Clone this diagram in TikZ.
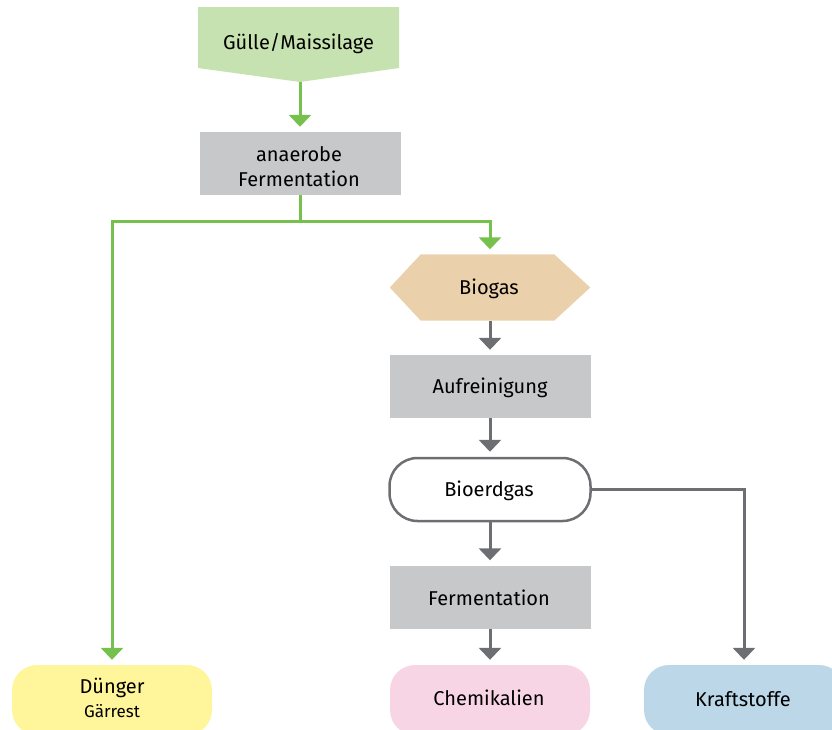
\documentclass[tikz,border=0pt]{standalone}
\usepackage{fontspec}
\setmainfont{Fira Sans}
\usetikzlibrary{arrows.meta}

\definecolor{srcfill}{HTML}{C6E2B0}
\definecolor{flowgreen}{HTML}{76C04E}
\definecolor{stepgray}{HTML}{C7C8CA}
\definecolor{flowgray}{HTML}{6D6E71}
\definecolor{gasfill}{HTML}{EBD1AB}
\definecolor{dungfill}{HTML}{FFF59A}
\definecolor{chemfill}{HTML}{F8D5E5}
\definecolor{fuelfill}{HTML}{BBD7E8}

\tikzset{
  lbl/.style={font=\fontsize{20}{25}\selectfont, align=center, text=black},
  stepbox/.style={rectangle, fill=stepgray, minimum width=201pt, minimum height=63pt, inner sep=0pt},
  endbox/.style={rectangle, rounded corners=25pt, minimum width=200pt, minimum height=70pt, inner sep=0pt},
  greenflow/.style={draw=flowgreen, line width=3pt},
  grayflow/.style={draw=flowgray, line width=3pt},
  tip/.style={-{Triangle[width=22pt,length=12pt]}, shorten >=5pt},
}

\begin{document}
\begin{tikzpicture}[x=1pt,y=-1pt]
  \useasboundingbox (0,0) rectangle (832,729);
  \clip (0,0) rectangle (832,729);

  % source: pentagon pointing down
  \fill[srcfill] (198,7) -- (399,7) -- (399,68) -- (300,82) -- (198,68) -- cycle;
  \node[lbl] (src) at (298.5,44) {Gülle/Maissilage};
  \coordinate (srctip) at (300,82);

  % anaerobic fermentation
  \node[stepbox] (anaer) at (300,163.5) {};
  \node[lbl] at (299,167) {anaerobe\\Fermentation};

  % biogas hexagon
  \node[minimum width=200pt, minimum height=66pt, inner sep=0pt] (biogas) at (490,287.5) {};
  \fill[gasfill] (biogas.west) -- ([xshift=31pt]biogas.north west) -- ([xshift=-36pt]biogas.north east)
     -- (biogas.east) -- ([xshift=-36pt]biogas.south east) -- ([xshift=31pt]biogas.south west) -- cycle;
  \node[lbl] at (489,289) {Biogas};

  % processing chain
  \node[stepbox] (purif) at (490,386.5) {};
  \node[lbl] at (490,388) {Aufreinigung};
  \node[draw=flowgray, line width=2.5pt, rounded corners=28pt, fill=white,
        minimum width=201pt, minimum height=63pt, inner sep=0pt] (bioerd) at (490,489.5) {};
  \node[lbl] at (489,491) {Bioerdgas};
  \node[stepbox] (ferm) at (490,597) {};
  \node[lbl] at (489,598) {Fermentation};

  % products
  \node[endbox, fill=dungfill] (dung) at (112,700) {};
  \node[lbl] at (112,688) {Dünger};
  \node[lbl, font=\fontsize{17}{19}\selectfont] at (112,711) {Gärrest};
  \node[endbox, fill=chemfill] (chem) at (490,700) {};
  \node[lbl] at (489,698) {Chemikalien};
  \node[endbox, fill=fuelfill] (fuel) at (744,700) {};
  \node[lbl] at (743,699) {Kraftstoffe};

  % green flow
  \draw[greenflow, tip] (srctip) -- (anaer.north);
  \draw[greenflow] (anaer.south) -- ++(0,26) coordinate (split);
  \draw[greenflow, tip] (split) -| (dung.north);
  \draw[greenflow, tip] (split) -| (biogas.north);

  % gray flow
  \draw[grayflow, tip] (biogas.south) -- (purif.north);
  \draw[grayflow, tip] (purif.south) -- (bioerd.north);
  \draw[grayflow, tip] (bioerd.south) -- (ferm.north);
  \draw[grayflow, tip] (ferm.south) -- (chem.north);
  \draw[grayflow, tip] (bioerd.east) -| (fuel.north);
\end{tikzpicture}
\end{document}
